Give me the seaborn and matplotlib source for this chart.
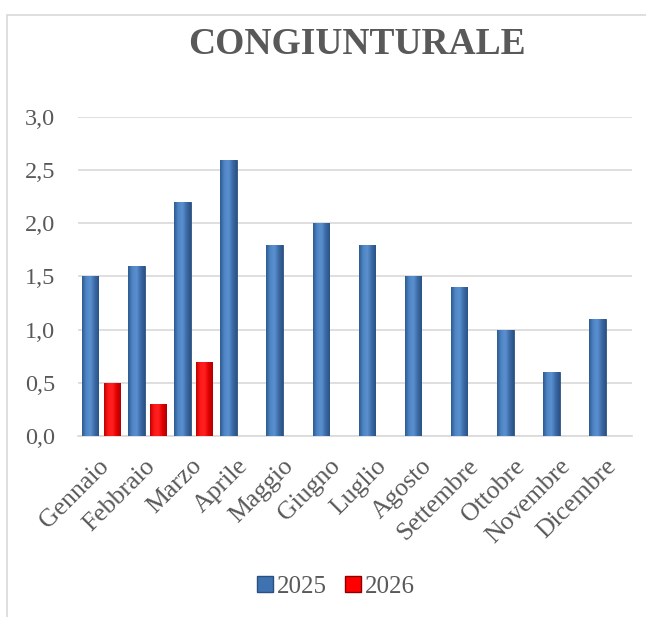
import numpy as np
import pandas as pd
import seaborn as sns
import matplotlib.pyplot as plt
from matplotlib.colors import LinearSegmentedColormap
from matplotlib.lines import Line2D
from matplotlib.patches import Patch
from matplotlib.transforms import ScaledTranslation

# dati
mesi = ['Gennaio', 'Febbraio', 'Marzo', 'Aprile', 'Maggio', 'Giugno',
        'Luglio', 'Agosto', 'Settembre', 'Ottobre', 'Novembre', 'Dicembre']
valori_2025 = [1.5, 1.6, 2.2, 2.6, 1.8, 2.0, 1.8, 1.5, 1.4, 1.0, 0.6, 1.1]
valori_2026 = [0.5, 0.3, 0.7]
anni = ['2025', '2026']
y_ticks = [0.0, 0.5, 1.0, 1.5, 2.0, 2.5, 3.0]

df = pd.concat([
    pd.DataFrame({'mese': mesi, 'valore': valori_2025, 'anno': '2025'}),
    pd.DataFrame({'mese': mesi[:len(valori_2026)], 'valore': valori_2026, 'anno': '2026'}),
])

sns.set_theme(style='white')
plt.rcParams['font.family'] = ['Liberation Serif', 'DejaVu Serif']
grigio = '#595959'

fig = plt.figure(figsize=(6.46, 6.17), dpi=100)
ax = fig.add_axes([0.1207, 0.2934, 0.857, 0.517])

colori = {'2025': '#4A7EBB', '2026': '#FF0000'}
sns.barplot(data=df, x='mese', y='valore', hue='anno', order=mesi, hue_order=anni,
            palette=colori, width=0.944, gap=0.244, ax=ax, legend=False, zorder=3,
            linewidth=0.6, edgecolor='#2B4F7E')

# sfumatura stile Excel sulle barre
cm_blu = LinearSegmentedColormap.from_list('b', ['#2E5A8F', '#4F86C6', '#5A90D0', '#3C6BA6', '#2A5285'])
cm_rosso = LinearSegmentedColormap.from_list('r', ['#C00000', '#FF1A1A', '#FF2020', '#E00000', '#B00000'])
grad = np.linspace(0, 1, 64).reshape(1, -1)
for p in list(ax.patches):
    h = p.get_height()
    if np.isnan(h) or h == 0:
        continue
    x0 = p.get_x()
    w = p.get_width()
    rosso = p.get_facecolor()[1] < 0.2
    if rosso:
        p.set_edgecolor('#8B0000')
    im = ax.imshow(grad, extent=[x0, x0 + w, 0, h], aspect='auto',
                   cmap=cm_rosso if rosso else cm_blu, zorder=3.5)
    im.set_clip_path(p)

ax.set_xlim(-0.5, len(mesi) - 0.5)
ax.set_ylim(0, 3.0)
ax.set_yticks(y_ticks)
ax.set_yticklabels([f'{v:.1f}'.replace('.', ',') for v in y_ticks])
ax.yaxis.grid(True, color='#D9D9D9', linewidth=1.2, zorder=0)
ax.set_axisbelow(True)
ax.set_xlabel('')
ax.set_ylabel('')
for s in ['top', 'right', 'left']:
    ax.spines[s].set_visible(False)
ax.spines['bottom'].set_color('#D9D9D9')
ax.spines['bottom'].set_linewidth(1.2)
ax.tick_params(axis='y', length=0, pad=16.5, labelsize=17.5, labelcolor=grigio)
ax.tick_params(axis='x', length=0, pad=0, labelsize=18.5, labelcolor=grigio)
sposta = ScaledTranslation(0.09, -0.31, fig.dpi_scale_trans)
for lab in ax.get_xticklabels():
    lab.set_rotation(45)
    lab.set_ha('right')
    lab.set_va('baseline')
    lab.set_rotation_mode('anchor')
    lab.set_transform(lab.get_transform() + sposta)

fig.text(0.553, 0.928, 'CONGIUNTURALE', ha='center', va='center',
         fontsize=27, fontweight='bold', color=grigio)

handles = [Patch(facecolor='#3F72B0', edgecolor='#2B4F7E', label='2025'),
           Patch(facecolor='#FF0000', edgecolor='#8B0000', label='2026')]
fig.legend(handles=handles, loc='center', bbox_to_anchor=(0.52, 0.049), ncol=2,
           frameon=False, fontsize=18, handlelength=0.62, handleheight=0.62,
           handletextpad=0.15, columnspacing=0.75, labelcolor=grigio)

# bordo del grafico
fig.add_artist(Line2D([0.011, 1.0], [0.976, 0.976], color='#D9D9D9', linewidth=1.2))
fig.add_artist(Line2D([0.011, 0.011], [0.0, 0.976], color='#D9D9D9', linewidth=1.2))

fig.savefig('out.png', dpi=100)
